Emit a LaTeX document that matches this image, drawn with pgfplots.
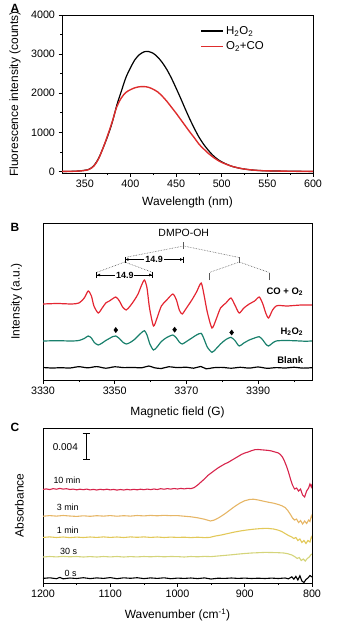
\documentclass[border=0pt]{standalone}
\usepackage{fontspec}
\setmainfont{Liberation Sans}
\usepackage{pgfplots}
\pgfplotsset{compat=1.18}
\usetikzlibrary{arrows.meta}
\definecolor{cA}{RGB}{222,45,45}
\definecolor{cRed}{RGB}{228,38,50}
\definecolor{cTeal}{RGB}{25,128,108}
\definecolor{c10}{RGB}{215,35,75}
\definecolor{c3}{RGB}{230,182,102}
\definecolor{c1}{RGB}{226,200,88}
\definecolor{c30}{RGB}{212,212,122}
\definecolor{dgray}{RGB}{90,90,90}
\pgfplotsset{
  myaxis/.style={
    scale only axis, anchor=north west,
    tick align=outside, xtick pos=left, ytick pos=left,
    major tick length=3.5bp, minor tick length=2bp,
    every tick/.style={black, line width=0.6pt},
    axis line style={line width=0.7pt},
    tick label style={font=\fontsize{10.8}{12}\selectfont},
    label style={font=\fontsize{12}{14}\selectfont},
    /pgf/number format/assume math mode=true,
    /pgf/number format/1000 sep={},
  }
}
\begin{document}
\begin{tikzpicture}
% ---------------- Panel A ----------------
\begin{axis}[myaxis,
  at={(62bp,-15bp)}, width=251bp, height=158bp,
  xmin=325, xmax=600, ymin=-40, ymax=4000,
  xtick={350,400,...,600}, ytick={0,1000,...,4000},
  minor x tick num=1, minor y tick num=1,
  xlabel={Wavelength (nm)}, ylabel={Fluorescence intensity (counts)},
  xlabel style={at={(axis description cs:0.5,-0.188)}, anchor=center},
  ylabel style={at={(axis description cs:-0.187,0.5)}, anchor=center},
  legend style={draw=none, fill=none, at={(axis description cs:0.54,0.955)}, anchor=north west,
    font=\fontsize{11.5}{13}\selectfont, row sep=2bp},
  legend cell align=left,
  legend image code/.code={\draw[#1] (0bp,0bp) -- (22bp,0bp);},
]
\addplot[black, line width=1.2pt, smooth] coordinates {
(325,0)(340,5)(350,30)(355,60)(360,150)(365,330)(370,600)(375,900)(380,1250)(385,1690)
(390,2050)(395,2400)(400,2650)(405,2860)(410,2990)(415,3060)(418,3070)(420,3065)(425,3020)
(430,2920)(435,2780)(440,2600)(445,2380)(450,2130)(455,1870)(460,1600)(465,1340)(470,1100)
(475,880)(480,700)(485,550)(490,420)(495,320)(500,245)(510,140)(520,80)(530,45)(540,25)
(550,15)(575,5)(600,0)};
\addlegendentry{H\textsubscript{2}O\textsubscript{2}}
\addplot[cA, line width=1.4pt, smooth] coordinates {
(325,0)(340,5)(350,25)(355,55)(360,140)(365,320)(370,600)(375,920)(380,1270)(385,1650)
(390,1880)(395,2020)(400,2090)(405,2140)(410,2165)(415,2170)(420,2150)(425,2100)(430,2030)
(435,1920)(440,1790)(445,1640)(450,1490)(455,1330)(460,1170)(465,1010)(470,860)(475,700)
(480,580)(485,470)(490,375)(495,295)(500,230)(510,140)(520,80)(530,45)(540,25)(550,15)
(575,5)(600,0)};
\addlegendentry{O\textsubscript{2}+CO}
\end{axis}
% ---------------- Panel B ----------------
\begin{axis}[myaxis,
  at={(43bp,-223bp)}, width=269bp, height=157bp,
  xmin=3330, xmax=3405, ymin=0, ymax=157,
  xtick={3330,3350,3370,3390}, minor xtick={3340,3360,3380,3400},
  ytick=\empty,
  xlabel={Magnetic field (G)}, ylabel={Intensity (a.u.)},
  xlabel style={at={(axis description cs:0.5,-0.208)}, anchor=center},
  ylabel style={at={(axis description cs:-0.098,0.5)}, anchor=center},
]
\addplot[cRed, line width=1.2pt, smooth, tension=0.4] coordinates {
(3330,76)(3334,76.5)(3338,76)(3340,77)(3341.5,82)(3342.6,89)(3343.5,84)(3344.2,74)(3345.4,67)
(3346.5,72)(3347.5,77)(3348.5,79)(3350.3,83)(3351.3,79)(3352.2,73)(3353.2,70)(3354.3,74)
(3355.5,80)(3356.5,86)(3357.5,95)(3358.3,100)(3359.0,92)(3359.7,72)(3360.8,54)(3361.8,62)
(3363,74)(3364.5,80)(3366.2,86)(3367.2,80)(3368.0,70)(3368.8,66)(3370,72)(3371.5,80)
(3372.8,88)(3374.1,97)(3374.9,85)(3375.8,68)(3377.1,52)(3378.2,60)(3379.5,72)(3381,77)
(3382.4,82)(3383.5,75)(3384.7,67)(3386,72)(3387.5,76)(3389,79)(3390.3,83)(3391.3,76)
(3392.1,67)(3392.9,62)(3394,70)(3395,74)(3396,74.5)(3398,74)(3400,74.5)(3402,75)(3405,75)};
\addplot[cTeal, line width=1.2pt, smooth, tension=0.4] coordinates {
(3330,39)(3334,39.3)(3338,39)(3340,39.5)(3341.5,41.5)(3342.6,44)(3343.5,42)(3344.3,37.5)
(3345.4,35)(3346.5,37)(3347.5,39.5)(3348.5,41.5)(3349.5,43.5)(3350.3,44)(3351.3,41.5)
(3352.2,38)(3353.2,36)(3354.3,37.5)(3355.5,40.5)(3356.5,44)(3357.5,47.5)(3358.3,49.3)
(3359.0,45)(3359.8,36)(3360.8,30)(3361.8,33)(3363,38.5)(3364.5,42.5)(3366.2,45)(3367.2,42)
(3368.0,38)(3368.8,36)(3370,38.5)(3371.5,42)(3372.8,45)(3374.1,46.7)(3374.9,41)(3375.8,33)
(3377.1,27.7)(3378.2,31)(3379.5,36)(3381,40.5)(3382.4,42.7)(3383.5,39.5)(3384.7,34)(3386,37)
(3387.5,40)(3389,42)(3390.3,43.3)(3391.3,40)(3392.1,36)(3392.9,34)(3394,37)(3395,39)
(3397,39.5)(3400,39.3)(3403,38.8)(3405,39)};
\addplot[black, line width=1.2pt, smooth] coordinates {
(3330,12.5)(3332.5,12)(3335,12.3)(3337.5,12.0)(3340,13.3)(3342.5,12.2)(3345,13.4)(3347.5,11.8)
(3350,13.2)(3352.5,12.4)(3355,12.6)(3357.5,12.2)(3359.5,14)(3361,12.3)(3363,11.5)(3365,13.2)
(3367.5,12.4)(3370,12.8)(3372,11.8)(3374,13.5)(3375.5,11.2)(3377.5,12.3)(3380,12.6)
(3382.5,11.8)(3385,12.7)(3387.5,11.9)(3390,13)(3392.5,11.7)(3395,12.4)(3397.5,12.0)
(3400,12.7)(3402.5,11.9)(3405,12.3)};
\addplot[only marks, mark=diamond*, mark size=2.6pt, black] coordinates {
(3350.3,50)(3366.7,50.3)(3382.6,47.5)};
% stick diagram
\draw[dgray, densely dotted, line width=0.6pt]
  (axis cs:3369.25,134) -- (axis cs:3352.8,122.5)
  (axis cs:3369.25,134) -- (axis cs:3384.7,122.5)
  (axis cs:3352.8,118) -- (axis cs:3344.9,107.5)
  (axis cs:3352.8,118) -- (axis cs:3360.6,107.5)
  (axis cs:3384.7,118) -- (axis cs:3376.4,107.5)
  (axis cs:3384.7,118) -- (axis cs:3393.1,107.5);
\draw[dgray, line width=0.6pt]
  (axis cs:3369.25,131) -- (axis cs:3369.25,138)
  (axis cs:3384.7,117) -- (axis cs:3384.7,123.5)
  (axis cs:3376.4,100) -- (axis cs:3376.4,107)
  (axis cs:3393.1,100) -- (axis cs:3393.1,107);
\draw[black, line width=0.6pt, {Bar[width=6bp]Latex[length=3bp,width=3bp]}-{Latex[length=3bp,width=3bp]Bar[width=6bp]}]
  (axis cs:3352.8,120.5) -- (axis cs:3369.25,120.5);
\draw[black, line width=0.6pt, {Bar[width=6bp]Latex[length=3bp,width=3bp]}-{Latex[length=3bp,width=3bp]Bar[width=6bp]}]
  (axis cs:3344.9,105) -- (axis cs:3360.6,105);
\node[fill=white, inner sep=1pt, font=\bfseries\fontsize{9}{10}\selectfont] at (axis cs:3361,120.5) {14.9};
\node[fill=white, inner sep=1pt, font=\bfseries\fontsize{9}{10}\selectfont] at (axis cs:3352.8,105) {14.9};
\node[font=\fontsize{10.5}{12}\selectfont] at (axis cs:3369.25,147.5) {DMPO-OH};
\node[anchor=east, font=\bfseries\fontsize{9.5}{11}\selectfont] at (axis cs:3403.5,88.5) {CO + O\textsubscript{2}};
\node[anchor=east, font=\bfseries\fontsize{9.5}{11}\selectfont] at (axis cs:3403.5,48.5) {H\textsubscript{2}O\textsubscript{2}};
\node[anchor=east, font=\bfseries\fontsize{9.5}{11}\selectfont] at (axis cs:3403.5,19.5) {Blank};
\end{axis}
% ---------------- Panel C ----------------
\begin{axis}[myaxis,
  at={(43bp,-428bp)}, width=269bp, height=155bp,
  xmin=800, xmax=1200, x dir=reverse, ymin=0, ymax=155,
  xtick={800,900,...,1200}, minor x tick num=1,
  ytick=\empty,
  xlabel={Wavenumber (cm\textsuperscript{-1})}, ylabel={Absorbance},
  xlabel style={at={(axis description cs:0.5,-0.206)}, anchor=center},
  ylabel style={at={(axis description cs:-0.088,0.5)}, anchor=center},
]
\addplot[c10, line width=1.1pt] coordinates {
(1200,93.6)(1195,94.1)(1190,93.4)(1185,94.4)(1180,93.8)(1175,94.6)(1170,93.9)(1165,94.3)
(1160,93.5)(1155,93.9)(1150,93.2)(1145,93.8)(1140,93.3)(1135,93.9)(1130,93.1)(1125,93.6)
(1120,93.0)(1115,93.7)(1110,93.2)(1105,93.8)(1100,93.1)(1095,93.6)(1090,92.9)(1085,93.5)
(1080,93.0)(1075,93.6)(1070,93.1)(1065,93.7)(1060,93.2)(1055,93.8)(1050,93.3)(1045,93.9)
(1040,93.4)(1035,94.0)(1030,93.5)(1025,94.3)(1020,93.8)(1015,94.4)(1010,93.9)(1005,94.5)
(1000,94.0)(995,94.6)(990,94.1)(985,94.7)(980,94.4)(975,95.5)(970,98)(965,101)(960,104)
(955,107.5)(950,110)(945,112.5)(940,115)(935,117)(930,119)(925,120.5)(920,122.5)(915,124.5)
(910,126.5)(905,128.5)(900,130)(895,131)(890,132.3)(885,133.3)(880,133.5)(875,133.2)
(870,132.9)(865,132.6)(860,132)(855,131)(850,130)(847,128.5)(844,126)(841,122)(838,117)
(835,111)(832,104)(829,98)(826,94)(823,95)(820,92)(817,94)(814,88)(811,86)(808,92)(805,95)
(803,99)(801,96)(800,99)};
\addplot[c3, line width=1.1pt] coordinates {
(1200,66.8)(1190,67.4)(1180,66.9)(1170,67.5)(1160,67.0)(1150,66.6)(1140,67.2)(1130,66.7)
(1120,67.3)(1110,66.9)(1100,67.4)(1090,66.8)(1080,67.3)(1070,66.9)(1060,67.5)(1050,67.1)
(1040,67.6)(1030,67.2)(1020,67.7)(1010,67.3)(1000,67.4)(990,66.8)(980,66.2)(970,65.2)
(960,63.8)(955,62.8)(951,62.0)(945,63.0)(938,65.5)(930,69)(922,73)(915,76.5)(907,80)
(900,82.3)(893,83.5)(887,83.8)(880,83)(872,81.8)(865,80.8)(857,79.8)(850,78.5)(845,77.3)
(840,75.5)(836,72.5)(832,68.5)(829,65)(826,63)(823,64)(820,60.5)(817,62.5)(814,59)(811,62)
(808,59.5)(805,63)(803,61.5)(801,67)(800,65)};
\addplot[c1, line width=1.1pt] coordinates {
(1200,45.6)(1190,46.1)(1180,45.5)(1170,46.0)(1160,45.4)(1150,45.9)(1140,45.5)(1130,46.0)
(1120,45.6)(1110,46.1)(1100,45.6)(1090,46.0)(1080,45.5)(1070,46.1)(1060,45.7)(1050,46.1)
(1040,45.6)(1030,46.0)(1020,45.5)(1010,45.9)(1000,45.6)(990,45.8)(980,45.4)(970,45.8)
(960,45.4)(952,45.6)(945,46.8)(935,48)(925,49.5)(915,51)(905,52.2)(897,53)(887,53.8)
(877,54.4)(867,54.7)(857,54)(850,52.8)(845,51.5)(840,49.5)(835,47.5)(830,46)(827,44.5)
(824,45.5)(821,42.5)(818,44)(815,40.5)(812,42.5)(809,39.5)(806,42.5)(803,41)(801,46)(800,44.5)};
\addplot[c30, line width=1.1pt] coordinates {
(1200,26.0)(1190,26.5)(1180,26.1)(1170,26.6)(1160,26.2)(1150,26.5)(1140,26.0)(1130,26.4)
(1120,26.0)(1110,26.5)(1100,26.1)(1090,26.5)(1080,26.0)(1070,26.4)(1060,26.1)(1050,26.5)
(1040,26.2)(1030,26.6)(1020,26.2)(1010,26.5)(1000,26.4)(990,26.0)(980,26.5)(970,26.2)
(960,26.6)(950,26.4)(940,27)(930,27.6)(920,28.2)(910,28.9)(900,29.5)(890,30)(880,30.3)
(870,30.6)(860,30.5)(850,30.3)(842,30)(836,29.3)(830,28)(826,26.5)(822,24.5)(819,25.5)
(816,22.5)(813,24)(810,22)(807,24.5)(804,26)(802,28)(800,29)};
\addplot[black, line width=1.1pt] coordinates {
(1200,4.6)(1190,5.2)(1180,4.3)(1175,5.6)(1170,4.2)(1160,5.0)(1150,4.5)(1140,5.3)(1130,4.4)
(1120,5.1)(1110,4.6)(1100,5.4)(1090,4.3)(1080,5.2)(1070,4.7)(1060,5.3)(1050,4.4)(1040,5.1)
(1030,4.6)(1020,5.2)(1010,4.3)(1000,4.9)(990,4.6)(980,5.0)(970,4.4)(960,5.1)(950,4.0)
(940,4.8)(930,4.6)(920,5.0)(910,4.6)(900,4.9)(890,4.5)(880,4.8)(870,4.5)(860,4.9)(850,4.5)
(840,5.0)(835,4.2)(830,6.2)(827,3.8)(824,6.6)(821,3.0)(818,7.2)(815,2.0)(812,0.5)(809,3.5)
(806,5.0)(803,7.5)(800,6)};
\draw[black, line width=0.7pt, {Bar[width=7bp]}-{Bar[width=7bp]}] (axis cs:1136,123.7) -- (axis cs:1136,149.7);
\node[anchor=east, font=\fontsize{10}{11}\selectfont] at (axis cs:1143,136.3) {0.004};
\node[anchor=west, font=\fontsize{9}{10}\selectfont] at (axis cs:1189.6,102.3) {10 min};
\node[anchor=west, font=\fontsize{9}{10}\selectfont] at (axis cs:1184.7,75.3) {3 min};
\node[anchor=west, font=\fontsize{9}{10}\selectfont] at (axis cs:1184.7,53) {1 min};
\node[anchor=west, font=\fontsize{9}{10}\selectfont] at (axis cs:1179.6,31.3) {30 s};
\node[anchor=west, font=\fontsize{9}{10}\selectfont] at (axis cs:1173.2,9.7) {0 s};
\end{axis}
% panel letters
\node[font=\bfseries\fontsize{12}{14}\selectfont] at (15bp,-8.5bp) {A};
\node[font=\bfseries\fontsize{12}{14}\selectfont] at (15bp,-227.5bp) {B};
\node[font=\bfseries\fontsize{12}{14}\selectfont] at (15bp,-427bp) {C};
\pgfresetboundingbox
\useasboundingbox (0,0) rectangle (339bp,-626bp);
\end{tikzpicture}
\end{document}
